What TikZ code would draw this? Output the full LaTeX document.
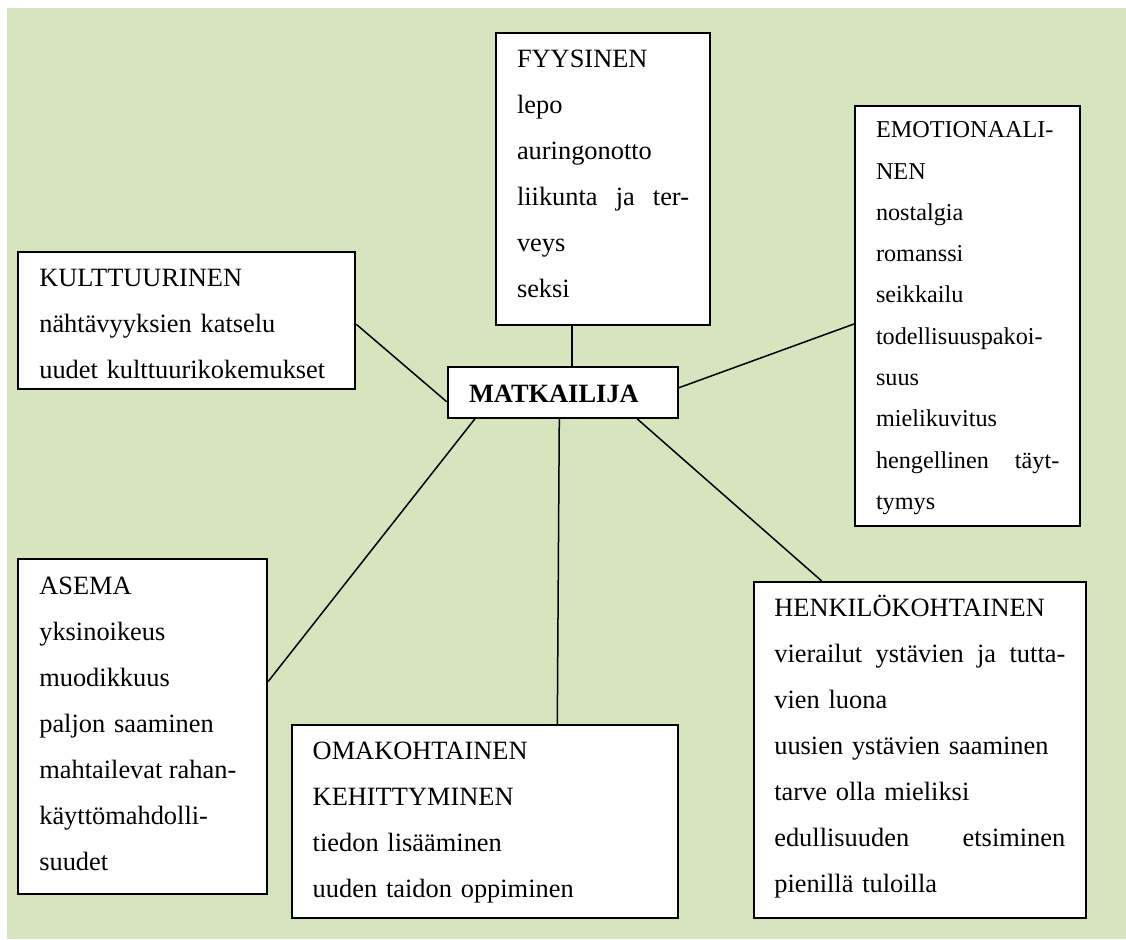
\documentclass[tikz,border=0pt]{standalone}
\usepackage{fontspec}
\setmainfont{Liberation Serif}
\definecolor{bggreen}{RGB}{215,228,189}
\begin{document}
\begin{tikzpicture}[x=1pt,y=-1pt,
  box/.style={draw=black, fill=white, line width=2pt, anchor=north west,
    inner xsep=21pt, inner ysep=0pt, align=left,
    font=\fontsize{26.4}{46}\selectfont},
  link/.style={draw=black, line width=1.5pt}]
\useasboundingbox (0,0) rectangle (1126,939);
\fill[bggreen] (7,8) rectangle (1126,939);

\node[box, text width=172pt, text height=35pt, text depth=257.3pt] (fyys) at (495,31.7)
  {FYYSINEN\\lepo\\auringonotto\\liikunta\hfill ja\hfill ter-\\veys\\seksi};
\node[box, text width=295pt, text height=34.7pt, text depth=102.3pt] (kult) at (17.3,251)
  {KULTTUURINEN\\nähtävyyksien katselu\\uudet kulttuurikokemukset};
\node[box, text width=183.3pt, text height=32pt, text depth=388.3pt,
  font=\fontsize{24.2}{41.3}\selectfont] (emot) at (854,104.7)
  {EMOTIONAALI-\\NEN\\nostalgia\\romanssi\\seikkailu\\todellisuuspakoi-\\suus\\mielikuvitus\\hengellinen\hfill täyt-\\tymys};
\node[box, text width=206.7pt, text height=35.6pt, text depth=299.4pt] (asema) at (17.3,557.7)
  {ASEMA\\yksinoikeus\\muodikkuus\\paljon saaminen\\\leavevmode\hbox to 197pt{mahtailevat\hfill rahan-}\\käyttömahdolli-\\suudet};
\node[box, inner xsep=20.6pt, text width=291pt, text height=34.7pt, text depth=301pt] (henk) at (752.7,581)
  {HENKILÖKOHTAINEN\\vierailut\hfill ystävien\hfill ja\hfill tutta-\\vien luona\\uusien ystävien saaminen\\tarve olla mieliksi\\edullisuuden\hfill etsiminen\\pienillä tuloilla};
\node[box, text width=344.6pt, text height=34.3pt, text depth=158.4pt] (omak) at (290.7,724)
  {OMAKOHTAINEN\\KEHITTYMINEN\\tiedon lisääminen\\uuden taidon oppiminen};
\node[box, inner xsep=21.3pt, text width=187.7pt, text height=35.7pt, text depth=15pt,
  font=\fontsize{26.4}{46}\selectfont\bfseries] (matk) at (446.7,366)
  {MATKAILIJA};

\draw[link] ([xshift=77pt]fyys.south west) -- ([xshift=125.3pt]matk.north west);
\draw[link] ([yshift=-73.3pt]kult.north east) -- ([yshift=-35.7pt]matk.north west);
\draw[link] ([yshift=-219.3pt]emot.north west) -- ([yshift=-21.7pt]matk.north east);
\draw[link] ([xshift=28.3pt]matk.south west) -- ([yshift=-124pt]asema.north east);
\draw[link] ([xshift=112.6pt]matk.south west) -- ([xshift=266.6pt]omak.north west);
\draw[link] ([xshift=190.3pt]matk.south west) -- ([xshift=69pt]henk.north west);
\end{tikzpicture}
\end{document}
